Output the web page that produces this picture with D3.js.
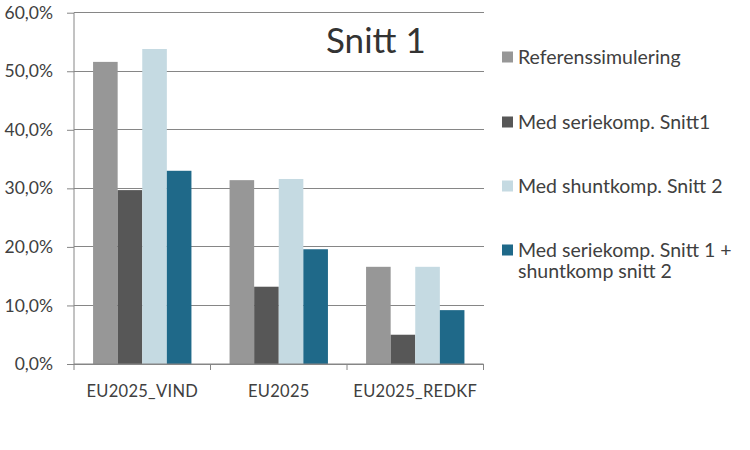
<!DOCTYPE html>
<html><head><meta charset="utf-8">
<script src="https://cdn.jsdelivr.net/npm/d3@7"></script>
<style>body{margin:0;background:#fff}svg{display:block}</style>
</head><body>
<svg id="c" width="750" height="450"></svg>
<script>
const categories = ["EU2025_VIND", "EU2025", "EU2025_REDKF"];
const seriesNames = ["Referenssimulering", "Med seriekomp. Snitt1", "Med shuntkomp. Snitt 2", "Med seriekomp. Snitt 1 + shuntkomp snitt 2"];
const referens = [0.516, 0.314, 0.166];
const serie = [0.297, 0.132, 0.050];
const shunt = [0.538, 0.316, 0.166];
const serieShunt = [0.330, 0.196, 0.092];
const yTicks = [0, 0.1, 0.2, 0.3, 0.4, 0.5, 0.6];
const colors = ["#979797", "#575757", "#c5dae2", "#1f6989"];
const title = "Snitt 1";

const values = [referens, serie, shunt, serieShunt];
const font = "Lato, 'Open Sans', sans-serif";
const svg = d3.select("#c");
const L = 74, R = 483.5, T = 12.7, B = 364;

const x0 = d3.scaleBand().domain(categories).range([L, R]).paddingInner(0).paddingOuter(0);
const x1 = d3.scaleBand().domain(d3.range(seriesNames.length)).range([0, x0.bandwidth()]).paddingOuter(0.775).paddingInner(0);
const y = d3.scaleLinear().domain([0, 0.6]).range([B, T]);

// gridlines
svg.append("g").selectAll("line").data(yTicks).join("line")
  .attr("x1", L).attr("x2", R).attr("y1", d => y(d)).attr("y2", d => y(d))
  .attr("stroke", "#868686").attr("stroke-width", 1).attr("shape-rendering", "crispEdges");

// bars
const g = svg.append("g");
categories.forEach((c, ci) => {
  g.append("g").selectAll("rect").data(values.map((v, si) => ({si, v: v[ci]}))).join("rect")
    .attr("x", d => x0(c) + x1(d.si))
    .attr("width", x1.bandwidth())
    .attr("y", d => y(d.v))
    .attr("height", d => B - y(d.v))
    .attr("fill", d => colors[d.si]);
});

// y axis
const fmt = d => d3.format(".1f")(d * 100).replace(".", ",") + "%";
const ya = svg.append("g").attr("transform", `translate(${L},0)`)
  .call(d3.axisLeft(y).tickValues(yTicks).tickFormat(fmt).tickSize(7).tickPadding(14));
ya.select(".domain").attr("stroke", "#868686").attr("d", `M0,${T}V${B}`);
ya.selectAll(".tick line").attr("stroke", "#868686").attr("x2", -7);
ya.selectAll("text").attr("font-family", font).attr("font-size", 17.5).attr("fill", "#404040");

// x axis
const xa = svg.append("g").attr("transform", `translate(0,${B})`)
  .call(d3.axisBottom(x0).tickSize(0).tickPadding(21));
xa.select(".domain").attr("stroke", "#868686").attr("d", `M${L},0H${R}`);
xa.selectAll("text").attr("font-family", font).attr("font-size", 16.5).attr("fill", "#404040").attr("letter-spacing", 0.3);
svg.append("g").selectAll("line").data(categories.map(c => x0(c)).concat([R])).join("line")
  .attr("x1", d => d).attr("x2", d => d).attr("y1", B).attr("y2", B + 6)
  .attr("stroke", "#868686");

// title
svg.append("text").attr("x", 326).attr("y", 53).text(title)
  .attr("font-family", font).attr("font-size", 35).attr("fill", "#333");

// legend
const legY = [57, 122, 186, 250];
const lg = svg.append("g");
seriesNames.forEach((n, i) => {
  lg.append("rect").attr("x", 502).attr("y", legY[i] - 5.5).attr("width", 11).attr("height", 11).attr("fill", colors[i]);
  if (i === 3) {
    lg.append("text").attr("x", 518).attr("y", legY[i] + 7)
      .attr("font-family", font).attr("font-size", 19.5).attr("fill", "#404040").text("Med seriekomp. Snitt 1 +");
    lg.append("text").attr("x", 518).attr("y", legY[i] + 28)
      .attr("font-family", font).attr("font-size", 19.5).attr("fill", "#404040").text("shuntkomp snitt 2");
  } else {
    lg.append("text").attr("x", 518).attr("y", legY[i] + 7)
      .attr("font-family", font).attr("font-size", 19.5).attr("fill", "#404040").text(n);
  }
});
</script>
</body></html>
